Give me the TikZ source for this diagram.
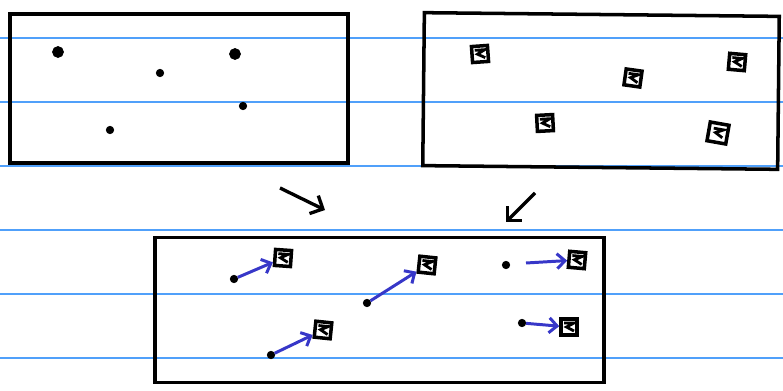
\documentclass[tikz,border=0pt]{standalone}
\usepackage{tikz}
\usetikzlibrary{arrows.meta, calc}

\definecolor{ruleblue}{RGB}{80,160,250}
\definecolor{penblue}{RGB}{55,55,200}

\begin{document}
\begin{tikzpicture}[x=0.02cm, y=-0.02cm,
            panel/.style={draw=black, line width=2pt, rectangle, inner sep=0pt},
            pt/.style={draw=black, fill=black, circle, inner sep=0pt, minimum size=0.22cm},
            smallpt/.style={draw=black, fill=black, circle, inner sep=0pt, minimum size=0.15cm},
            sq/.style={draw=black, line width=2pt, rectangle, inner sep=0pt, minimum size=0.32cm,
                path picture={\draw[line width=1.6pt] ([shift={(-0.1cm,0.08cm)}]path picture bounding box.center) -- ++(0.2cm,0cm) -- ++(-0.15cm,-0.08cm) -- ++(0.15cm,-0.08cm);}},
            move/.style={draw=penblue, line width=1.7pt, -{Straight Barb[length=1.6mm, width=3mm]}},
            flow/.style={draw=black, line width=1.9pt, -{Straight Barb[length=2mm, width=4mm]}},
            rule/.style={draw=ruleblue, line width=0.6pt}
        ]

        \useasboundingbox (0,0) rectangle (783,391);

        % Linien
        \foreach \yy in {38,102,166,230,294,358} {
            \draw[rule] (0,\yy) -- (783,\yy);
        }

        % Rahmen
        \node[panel, minimum width=6.76cm, minimum height=2.98cm] (left) at (179,88.5) {};
        \node[panel, minimum width=7.1cm, minimum height=3.06cm, rotate=-0.6] (right) at (601,91) {};
        \node[panel, minimum width=8.98cm, minimum height=2.9cm] (bottom) at (379.5,310) {};

        % Punkte
        \node[pt] (p1) at (58,52) {};
        \node[smallpt] (p2) at (160,73) {};
        \node[pt] (p3) at (235,54) {};
        \node[smallpt] (p4) at (243,106) {};
        \node[smallpt] (p5) at (110,130) {};

        % Quadrate
        \node[sq, rotate=4] (q1) at (480,54) {};
        \node[sq, rotate=-8] (q2) at (633,78) {};
        \node[sq, rotate=-5] (q3) at (737,62) {};
        \node[sq, rotate=3] (q4) at (545,123) {};
        \node[sq, rotate=-10, minimum size=0.38cm] (q5) at (718,133) {};

        % Ergebnis
        \node[smallpt] (a1) at (234,279) {};
        \node[smallpt] (a2) at (367,303) {};
        \node[smallpt] (a3) at (271,355) {};
        \node[smallpt] (a4) at (506,265) {};
        \node[smallpt] (a5) at (522,323) {};
        \node[sq, rotate=-4] (b1) at (283,258) {};
        \node[sq, rotate=-6] (b2) at (427,265) {};
        \node[sq, rotate=-6] (b3) at (323,330) {};
        \node[sq, rotate=-5] (b4) at (577,260) {};
        \node[sq, rotate=0] (b5) at (569,327) {};

        \draw[move] (a1) -- (b1);
        \draw[move] (a2) -- (b2);
        \draw[move] (a3) -- (b3);
        \draw[move] ($(a4)+(20,-2)$) -- (b4);
        \draw[move] (a5) -- (b5);

        % Pfeile
        \coordinate (f1) at (280,188);
        \coordinate (f2) at (535,193);
        \draw[flow] (f1) -- ++(45,22);
        \draw[flow] (f2) -- ++(-29,29);

    \end{tikzpicture}
\end{document}
